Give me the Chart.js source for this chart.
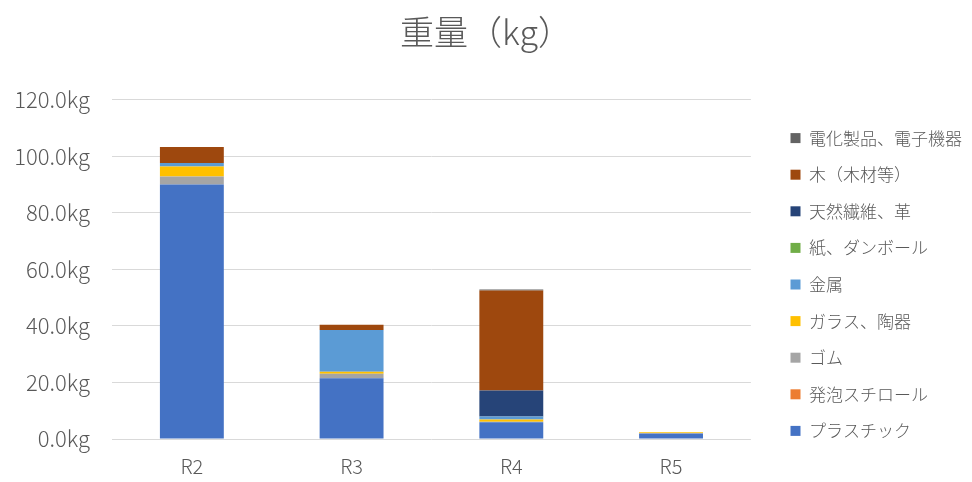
<!DOCTYPE html>
<html>
<head>
<meta charset="utf-8">
<script src="https://cdn.jsdelivr.net/npm/chart.js@4.4.0/dist/chart.umd.min.js"></script>
<style>
  html, body { margin: 0; padding: 0; background: #fff; }
  #wrap { width: 972px; height: 482px; }
</style>
</head>
<body>
<div id="wrap"><canvas id="weightChart"></canvas></div>
<script>
const years = ['R2', 'R3', 'R4', 'R5'];

const plastic = [90, 21.5, 5.9, 1.9];
const styrofoam = [0, 0, 0, 0];
const rubber = [2.9, 1.6, 0.2, 0.2];
const glass = [3.5, 0.7, 0.8, 0.3];
const metal = [1.2, 14.8, 1.1, 0];
const paper = [0, 0, 0, 0];
const fiber = [0, 0, 9.2, 0];
const wood = [5.7, 1.8, 35.3, 0];
const electronics = [0, 0, 0.4, 0];

const seriesNames = ['プラスチック', '発泡スチロール', 'ゴム', 'ガラス、陶器', '金属', '紙、ダンボール', '天然繊維、革', '木（木材等）', '電化製品、電子機器'];
const seriesData = [plastic, styrofoam, rubber, glass, metal, paper, fiber, wood, electronics];
const seriesColors = ['#4472C4', '#ED7D31', '#A5A5A5', '#FFC000', '#5B9BD5', '#70AD47', '#264478', '#9E480E', '#636363'];

const yTicks = [0, 20, 40, 60, 80, 100, 120];

const fontFamily = '"Noto Sans CJK JP", "Noto Sans", sans-serif';
const textColor = '#595959';
const gridColor = '#D9D9D9';

function drawChart() {
  const ctx = document.getElementById('weightChart').getContext('2d');
  new Chart(ctx, {
    type: 'bar',
    data: {
      labels: years,
      datasets: seriesNames.map((name, i) => ({
        label: name,
        data: seriesData[i],
        backgroundColor: seriesColors[i],
        borderWidth: 0,
        barPercentage: 0.4,
        categoryPercentage: 1.0
      }))
    },
    options: {
      responsive: true,
      maintainAspectRatio: false,
      animation: false,
      layout: { padding: 0 },
      plugins: {
        title: {
          display: true,
          text: '重量（kg）',
          color: textColor,
          font: { family: fontFamily, size: 34, weight: 300 },
          padding: { top: 12, bottom: 47 }
        },
        legend: {
          position: 'right',
          reverse: true,
          maxWidth: 260,
          // empty title only pushes the items down
          title: { display: true, text: '', font: { size: 10 }, padding: { top: 0, bottom: 75 } },
          labels: {
            boxWidth: 10,
            boxHeight: 10,
            padding: 19.6,
            color: textColor,
            font: { family: fontFamily, size: 17, weight: 300 }
          }
        },
        tooltip: { enabled: false }
      },
      scales: {
        x: {
          stacked: true,
          grid: { display: false, drawTicks: false },
          border: { display: false },
          ticks: { color: textColor, padding: 15, font: { family: fontFamily, size: 20, weight: 300 } },
          afterFit: axis => { axis.height = 43; }
        },
        y: {
          stacked: true,
          min: 0,
          max: 120,
          afterBuildTicks: axis => { axis.ticks = yTicks.map(v => ({ value: v })); },
          grid: { color: gridColor, lineWidth: 1, drawTicks: false },
          border: { display: false },
          ticks: {
            color: textColor,
            padding: 22,
            font: { family: fontFamily, size: 22, weight: 300 },
            callback: v => v.toFixed(1) + 'kg'
          },
          afterFit: axis => { axis.width = 112; }
        },
        gap: {
          position: 'right',
          display: true,
          grid: { display: false, drawTicks: false },
          border: { display: false },
          ticks: { display: false },
          afterFit: axis => { axis.width = 20; }
        }
      }
    }
  });
}

Promise.all([
  document.fonts.load('300 17px "Noto Sans CJK JP"', '電化製品、電子機器'),
  document.fonts.load('300 34px "Noto Sans CJK JP"', '重量（kg）'),
  document.fonts.load('17px "Noto Sans CJK JP"', '電化製品、電子機器')
]).then(drawChart, drawChart);
</script>
</body>
</html>
